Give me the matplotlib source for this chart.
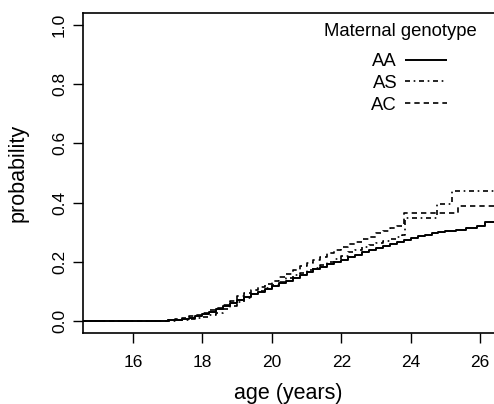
import matplotlib
matplotlib.use("Agg")
import matplotlib.pyplot as plt

plt.rcParams["font.family"] = ["Liberation Sans", "DejaVu Sans"]

# Cumulative probability step curves, by maternal genotype
age_aa = [14.5, 16.8, 17.0, 17.2, 17.4, 17.6, 17.8, 18.0, 18.2, 18.4, 18.6, 18.8,
          19.0, 19.2, 19.4, 19.6, 19.8, 20.0, 20.2, 20.4, 20.6, 20.8, 21.0, 21.2,
          21.4, 21.6, 21.8, 22.0, 22.2, 22.4, 22.6, 22.8, 23.0, 23.2, 23.4, 23.6,
          23.8, 24.0, 24.2, 24.4, 24.6, 24.8, 25.0, 25.3, 25.6, 25.9, 26.15, 26.6]
prob_aa = [0.0, 0.002, 0.003, 0.005, 0.008, 0.012, 0.018, 0.024, 0.031, 0.040, 0.050, 0.060,
           0.070, 0.080, 0.090, 0.100, 0.110, 0.119, 0.128, 0.137, 0.147, 0.156, 0.166, 0.175,
           0.184, 0.193, 0.200, 0.207, 0.216, 0.224, 0.232, 0.240, 0.247, 0.254, 0.261, 0.267,
           0.274, 0.280, 0.286, 0.291, 0.296, 0.300, 0.304, 0.308, 0.313, 0.320, 0.335, 0.335]

age_as = [14.5, 17.0, 17.3, 17.6, 17.8, 18.0, 18.2, 18.4, 18.6, 18.8, 19.0, 19.2,
          19.4, 19.6, 19.8, 20.0, 20.2, 20.4, 20.6, 20.8, 21.0, 21.2, 21.4, 21.6,
          21.8, 22.0, 22.2, 22.4, 22.6, 22.8, 23.0, 23.2, 23.4, 23.6, 23.75, 23.85,
          24.75, 25.2, 26.6]
prob_as = [0.0, 0.002, 0.004, 0.007, 0.010, 0.014, 0.020, 0.029, 0.040, 0.052, 0.065, 0.078,
           0.090, 0.101, 0.112, 0.122, 0.133, 0.145, 0.155, 0.164, 0.172, 0.181, 0.190, 0.198,
           0.209, 0.221, 0.232, 0.241, 0.249, 0.256, 0.263, 0.270, 0.277, 0.284, 0.290, 0.348,
           0.395, 0.440, 0.440]

age_ac = [14.5, 16.8, 17.0, 17.2, 17.4, 17.6, 17.8, 18.0, 18.2, 18.4, 18.6, 18.8,
          19.0, 19.2, 19.4, 19.6, 19.8, 20.0, 20.2, 20.4, 20.6, 20.8, 21.0, 21.2,
          21.4, 21.6, 21.8, 22.0, 22.2, 22.4, 22.6, 22.8, 23.0, 23.2, 23.4, 23.6,
          23.8, 25.35, 26.6]
prob_ac = [0.0, 0.002, 0.004, 0.007, 0.011, 0.016, 0.022, 0.029, 0.037, 0.046, 0.056, 0.068,
           0.085, 0.096, 0.106, 0.116, 0.126, 0.137, 0.148, 0.160, 0.172, 0.185, 0.195, 0.205,
           0.215, 0.230, 0.241, 0.251, 0.260, 0.268, 0.276, 0.285, 0.296, 0.305, 0.313, 0.320,
           0.366, 0.390, 0.390]

x_ticks = [16, 18, 20, 22, 24, 26]
y_ticks = [0.0, 0.2, 0.4, 0.6, 0.8, 1.0]

fig = plt.figure(figsize=(4.94, 4.04), dpi=100)
ax = fig.add_axes([83 / 494, 71 / 404, 411 / 494, 320 / 404])

ax.plot(age_aa, prob_aa, drawstyle="steps-post", color="black", lw=1.4,
        solid_capstyle="butt", label="AA")
ax.plot(age_as, prob_as, drawstyle="steps-post", color="black", lw=1.2,
        dashes=(3, 2.2, 1, 2.2), label="AS")
ax.plot(age_ac, prob_ac, drawstyle="steps-post", color="black", lw=1.2,
        dashes=(3.2, 2.4), label="AC")

ax.set_xlim(14.56, 26.4)
ax.set_ylim(-0.04, 1.04)
ax.set_xticks(x_ticks)
ax.set_yticks(y_ticks)
ax.set_yticklabels([f"{v:.1f}" for v in y_ticks], rotation=90, va="center")
ax.tick_params(direction="out", length=7.5, width=1, labelsize=12.5, pad=4)
ax.tick_params(axis="x", pad=8)
for side in ["left", "top", "bottom"]:
    ax.spines[side].set_linewidth(1.2)
ax.spines["right"].set_visible(False)

ax.set_xlabel("age (years)", fontsize=15.5, labelpad=10)
ax.set_ylabel("probability", fontsize=15.5, labelpad=17)

# Legend title drawn separately so its gap to the entries matches the original
fig.text(400 / 494, 1 - 32 / 404, "Maternal genotype", fontsize=13.3,
         ha="center", va="center")
ax.legend(markerfirst=False, frameon=False, loc="upper right",
          bbox_to_anchor=(447 / 494, 1 - 53 / 404), bbox_transform=fig.transFigure,
          fontsize=13.3, borderpad=0, borderaxespad=0, handlelength=2.3,
          handletextpad=0.4, labelspacing=0.26)

fig.savefig("out.png", dpi=100)
